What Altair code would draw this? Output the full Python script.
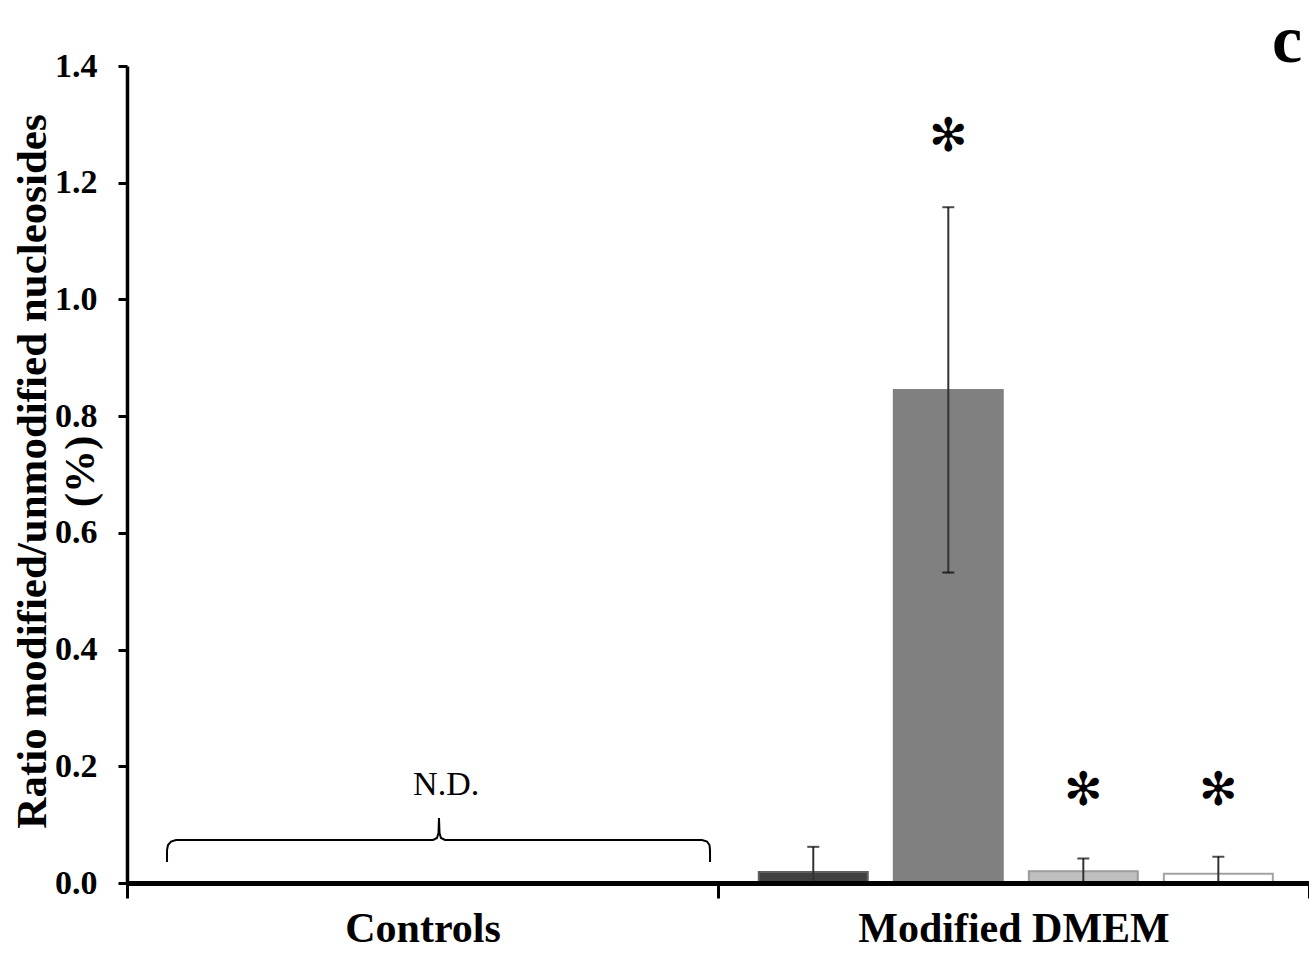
import altair as alt
import pandas as pd

# ---- data ----
groups = ["Controls", "Modified DMEM"]
series = ["Series 1", "Series 2", "Series 3", "Series 4"]
control_values = [0.0, 0.0, 0.0, 0.0]
control_errors = [0.0, 0.0, 0.0, 0.0]
dmem_values = [0.019, 0.845, 0.020, 0.016]
dmem_errors = [0.043, 0.313, 0.022, 0.029]
star_series = ["Series 2", "Series 3", "Series 4"]
star_y = [1.278, 0.157, 0.157]
fills = ["#404040", "#808080", "#bfbfbf", "#ffffff"]
strokes = ["#5e5e5e", "#808080", "#9c9c9c", "#a3a3a3"]
y_ticks = [0.0, 0.2, 0.4, 0.6, 0.8, 1.0, 1.2, 1.4]
y_title = ["Ratio modified/unmodified nucleosides", "(%)"]
# brace over the Controls group (x in group units, y in data units)
brace_u = [0.0677, 0.0677, 0.0694, 0.0745, 0.0829, 0.5178, 0.5245, 0.5271, 0.5279,
           0.5288, 0.5313, 0.5381, 0.9729, 0.9814, 0.9856, 0.9865, 0.9865]
brace_v = [0.036, 0.0565, 0.0651, 0.0711, 0.0737, 0.0737, 0.0771, 0.0857, 0.1114,
           0.0857, 0.0771, 0.0737, 0.0737, 0.0711, 0.0651, 0.0565, 0.036]
nd_u = [0.54]
nd_v = [0.151]
panel_label = ["c"]
panel_u = [1.963]
panel_v = [1.407]

rows = []
for s, v, e in zip(series, control_values, control_errors):
    rows.append({"group": groups[0], "series": s, "value": v, "err": e})
for s, v, e in zip(series, dmem_values, dmem_errors):
    rows.append({"group": groups[1], "series": s, "value": v, "err": e})
df = pd.DataFrame(rows)
df["lo"] = (df["value"] - df["err"]).clip(lower=0)
df["hi"] = df["value"] + df["err"]
err_df = df[df["err"] > 0]
stars_df = pd.DataFrame({"group": groups[1], "series": star_series, "y": star_y})
brace_df = pd.DataFrame({"u": brace_u, "v": brace_v, "i": list(range(len(brace_u)))})
nd_df = pd.DataFrame({"u": nd_u, "v": nd_v})
panel_df = pd.DataFrame({"u": panel_u, "v": panel_v, "t": panel_label})

SERIF = "Liberation Serif"

x_axis = alt.Axis(title=None, labelAngle=0, labelFont=SERIF, labelFontSize=42,
                  labelFontWeight="bold", labelColor="black", labelPadding=10,
                  labelLimit=0,
                  tickBand="extent", tickSize=15, tickWidth=3, tickColor="black",
                  domainWidth=5, domainColor="black", zindex=1)
x_scale = alt.Scale(domain=groups, paddingInner=0, paddingOuter=0)
xo_scale = alt.Scale(domain=series, paddingInner=0.193, paddingOuter=0.285, align=0.53)
y_scale = alt.Scale(domain=[0, 1.4], nice=False, zero=True)
y_axis = alt.Axis(title=y_title, values=y_ticks, format=".1f", grid=False,
                  labelFont=SERIF, labelFontSize=34, labelFontWeight="bold",
                  labelColor="black", labelPadding=21,
                  tickSize=9, tickWidth=3, tickColor="black",
                  domainWidth=3.5, domainColor="black",
                  titleFont=SERIF, titleFontSize=43, titleFontWeight="bold",
                  titleColor="black", titleAngle=270, titleAlign="center",
                  titleBaseline="alphabetic", titleX=-82, titleY=405,
                  titleLineHeight=48, zindex=1)


def X():
    return alt.X("group:N", scale=x_scale, axis=x_axis)


def XO():
    return alt.XOffset("series:N", scale=xo_scale)


def Y(field):
    return alt.Y(field, scale=y_scale, axis=y_axis)


bars = alt.Chart(df).mark_bar(strokeWidth=2).encode(
    x=X(), xOffset=XO(), y=Y("value:Q"),
    color=alt.Color("series:N", scale=alt.Scale(domain=series, range=fills), legend=None),
    stroke=alt.Stroke("series:N", scale=alt.Scale(domain=series, range=strokes), legend=None),
)

err_rule = alt.Chart(err_df).mark_rule(color="#333333", strokeWidth=2).encode(
    x=X(), xOffset=XO(), y=Y("lo:Q"), y2="hi:Q"
)
cap_hi = alt.Chart(err_df).mark_tick(orient="horizontal", size=12, thickness=2, color="black").encode(
    x=X(), xOffset=XO(), y=Y("hi:Q")
)
cap_lo = alt.Chart(err_df).transform_filter("datum.lo > 0").mark_tick(
    orient="horizontal", size=12, thickness=2, color="black").encode(
    x=X(), xOffset=XO(), y=Y("lo:Q")
)
stars = alt.Chart(stars_df).mark_text(text="✻", font="DejaVu Sans", fontSize=46,
                                      baseline="middle", color="black").encode(
    x=X(), xOffset=XO(), y=Y("y:Q")
)

inner = alt.layer(bars, err_rule, cap_hi, cap_lo, stars)

u_scale = alt.Scale(domain=[0, 2], nice=False, zero=False)
brace = alt.Chart(brace_df).mark_line(color="black", strokeWidth=2).encode(
    x=alt.X("u:Q", scale=u_scale, axis=None), y=Y("v:Q"), order="i:Q"
)
nd = alt.Chart(nd_df).mark_text(text="N.D.", font=SERIF, fontSize=34,
                                baseline="alphabetic", color="black").encode(
    x=alt.X("u:Q", scale=u_scale, axis=None), y=Y("v:Q")
)
panel = alt.Chart(panel_df).mark_text(font=SERIF, fontSize=68, fontWeight="bold",
                                      baseline="alphabetic", color="black").encode(
    x=alt.X("u:Q", scale=u_scale, axis=None), y=Y("v:Q"), text="t:N"
)

chart = alt.layer(inner, brace, nd, panel).resolve_scale(x="independent").properties(
    width=1182, height=817,
    autosize=alt.AutoSizeParams(type="none"),
    padding={"left": 127, "top": 66, "right": 0, "bottom": 75},
    background="white",
).configure_view(stroke=None)

chart.save("out.html", embed_options={"renderer": "svg", "actions": False})
